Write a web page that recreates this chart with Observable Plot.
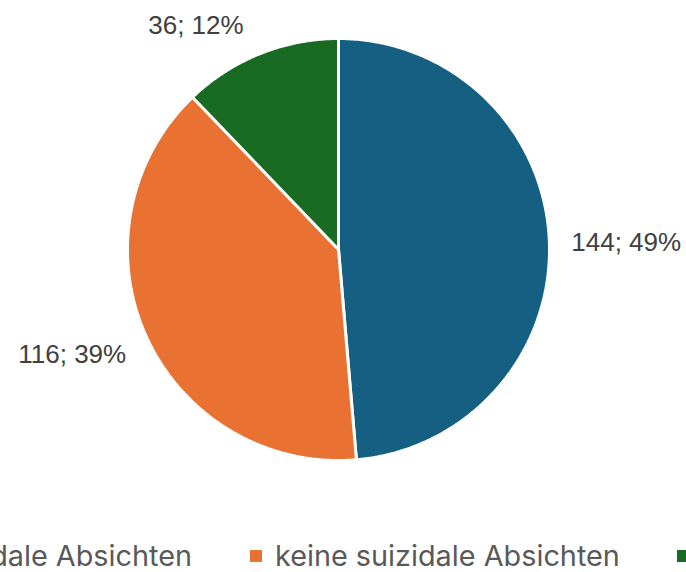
<!DOCTYPE html>
<html>
<head>
<meta charset="utf-8">
<script src="https://cdn.jsdelivr.net/npm/d3@7"></script>
<script src="https://cdn.jsdelivr.net/npm/@observablehq/plot@0.6"></script>
<style>
  html, body { margin: 0; padding: 0; background: #fff; }
  #wrap { position: relative; width: 686px; height: 572px; overflow: hidden; }
  #legend { position: absolute; left: 0; top: 541px; width: 686px; height: 30px; font-family: Inter, "Open Sans", sans-serif; color: #595959; }
  .lg-text { position: absolute; top: 0; line-height: 30px; white-space: nowrap; }
  .lg-sq { position: absolute; top: 9px; width: 12px; height: 12px; }
</style>
</head>
<body>
<div id="wrap">
  <div id="chart"></div>
  <div id="legend"></div>
</div>
<script>
const categories = ["suizidale Absichten", "keine suizidale Absichten", "keine Angabe"];
const counts = [144, 116, 36];
const percentLabels = ["49%", "39%", "12%"];
const colors = ["#156082", "#E97132", "#196B24"];

const W = 686, H = 530, CX = 338, CY = 249, R = 211;

const data = categories.map((c, i) => ({category: c, count: counts[i], pct: percentLabels[i], color: colors[i]}));
const pie = d3.pie().value(d => d.count).sort(null)(data);

// slice outlines in unit coordinates (angle clockwise from top)
const pts = [];
pie.forEach(p => {
  pts.push({category: p.data.category, x: 0, y: 0});
  const n = Math.max(8, Math.ceil((p.endAngle - p.startAngle) / 0.01));
  for (let k = 0; k <= n; k++) {
    const a = p.startAngle + (p.endAngle - p.startAngle) * k / n;
    pts.push({category: p.data.category, x: Math.sin(a), y: Math.cos(a)});
  }
  pts.push({category: p.data.category, x: 0, y: 0});
});

// outside-end labels
const labels = pie.map(p => {
  const a = (p.startAngle + p.endAngle) / 2;
  const s = Math.sin(a), c = Math.cos(a);
  const k = (R + 22) / R;
  return {
    text: `${p.data.count}; ${p.data.pct}`,
    x: s * k, y: c * k,
    dy: 4 - 13 * c,
    dx: (Math.abs(c) > 0.8 ? -8 : 0),
    anchor: s > 0 ? "start" : "end"
  };
});

const chart = Plot.plot({
  width: W, height: H,
  margin: 0,
  x: {domain: [-CX / R, (W - CX) / R], axis: null},
  y: {domain: [-(H - CY) / R, CY / R], axis: null},
  color: {domain: categories, range: colors},
  marks: [
    Plot.line(pts, {x: "x", y: "y", z: "category", fill: "category", stroke: "white", strokeWidth: 3, curve: "linear", strokeLinejoin: "miter"}),
    ...labels.map(l =>
      Plot.text([l], {
        x: "x", y: "y", text: "text", textAnchor: l.anchor,
        dx: l.dx, dy: l.dy,
        lineAnchor: "middle",
        fontSize: 26, fill: "#404040", fontFamily: "'Liberation Sans', Arial, sans-serif"
      }))
  ]
});
document.getElementById("chart").appendChild(chart);

// legend (wider than the window, cut off at both sides as in the source)
const legend = document.getElementById("legend");
const ctx = document.createElement("canvas").getContext("2d");
ctx.font = "28px Inter";
const fs = 28 * 345 / ctx.measureText(categories[1]).width;
legend.style.fontSize = fs + "px";
function sq(left, color) {
  const d = document.createElement("div"); d.className = "lg-sq";
  d.style.left = left + "px"; d.style.background = color; legend.appendChild(d);
}
function txt(text, left, right) {
  const d = document.createElement("div"); d.className = "lg-text"; d.textContent = text;
  if (left != null) d.style.left = left + "px"; else d.style.right = right + "px";
  legend.appendChild(d);
}
ctx.font = fs + "px Inter";
const w0 = ctx.measureText(categories[0]).width;
sq(192 - w0 - 13 - 12, colors[0]);
txt(categories[0], null, 686 - 192);
sq(250, colors[1]);
txt(categories[1], 275, null);
sq(677, colors[2]);
txt(categories[2], 702, null);
</script>
</body>
</html>
